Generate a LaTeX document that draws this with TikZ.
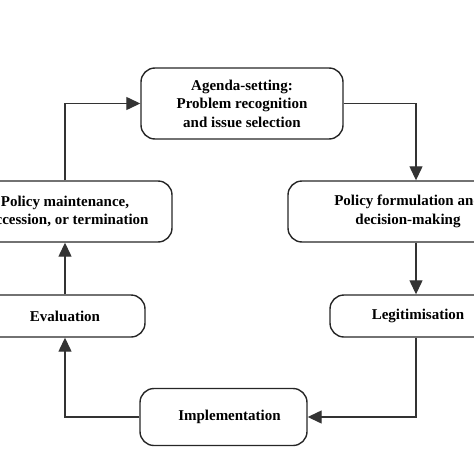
\documentclass[tikz,border=0pt]{standalone}
\usepackage{fontspec}
\setmainfont{Liberation Serif}
\usetikzlibrary{arrows.meta}
\begin{document}
\begin{tikzpicture}[x=1pt,y=-1pt,
  stagebox/.style={draw=black!85,line width=1.4pt,rounded corners=14pt,align=center,
    font=\fontsize{15}{18.5}\selectfont\bfseries,inner sep=0pt},
  arr/.style={draw=black!80,line width=1.3pt,-{Triangle[length=14pt,width=13pt]}}]
\useasboundingbox (0,0) rectangle (474,474);
\clip (0,0) rectangle (474,474);
\node[stagebox,minimum width=202pt,minimum height=71pt] (ag) at (242,103.5)
  {Agenda-setting:\\Problem recognition\\and issue selection};
\node[stagebox,minimum width=214pt,minimum height=61pt] (pm) at (65,211.5)
  {Policy maintenance,\\succession, or termination};
\node[stagebox,minimum width=240pt,minimum height=61pt] (pf) at (408,211.5)
  {Policy formulation and\\decision-making};
\node[stagebox,minimum width=176pt,minimum height=42pt] (lg) at (418,316)
  {Legitimisation};
\node[stagebox,minimum width=160pt,minimum height=42pt] (ev) at (65,316)
  {Evaluation};
\node[stagebox,minimum width=167pt,minimum height=57pt] (im) at (223.5,417)
  {\hspace*{12pt}Implementation};
\draw[arr] (ag.east) -| ([xshift=8pt]pf.north);
\draw[arr] ([xshift=8pt]pf.south) -- ([xshift=8pt]pf.south |- lg.north);
\draw[arr] ([xshift=-2pt]lg.south) |- (im.east);
\draw[arr] (im.west) -| (ev.south);
\draw[arr] (ev.north) -- (pm.south);
\draw[arr] (pm.north) |- (ag.west);
\end{tikzpicture}
\end{document}
